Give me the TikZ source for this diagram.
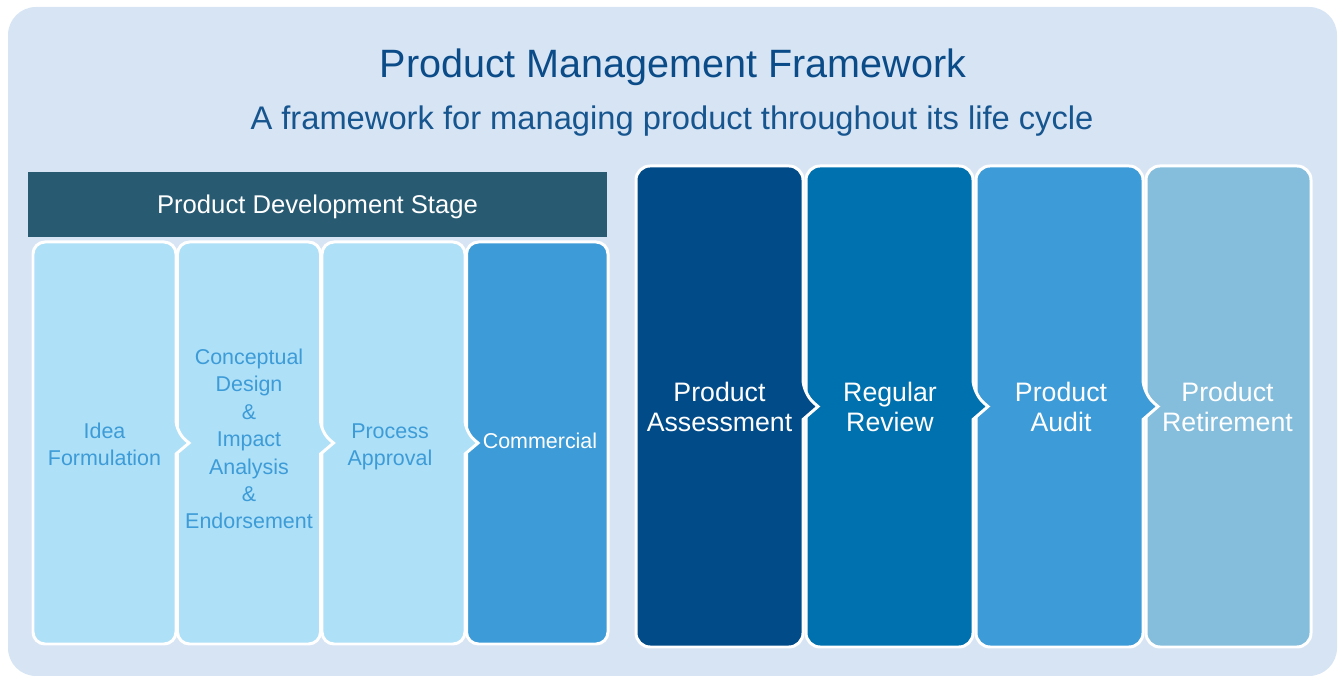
\documentclass[tikz,border=0pt]{standalone}
\usepackage{xcolor}
\usepackage{fontspec}
\setmainfont{Liberation Sans}
\usepackage{tikz}
\definecolor{PMBack}{HTML}{D6E4F4}
\definecolor{PMTitle}{HTML}{0B4C88}
\definecolor{PMSub}{HTML}{17558F}
\definecolor{PMHead}{HTML}{285A72}
\definecolor{PMLight}{HTML}{AEE0F7}
\definecolor{PMMid}{HTML}{3D9BD7}
\definecolor{PMNavy}{HTML}{004B88}
\definecolor{PMRoyal}{HTML}{0071AF}
\definecolor{PMPale}{HTML}{85BEDC}

\begin{document}
\begin{tikzpicture}[x=1cm,y=1cm,
  pmbox/.style={draw=white,line width=1.7pt,line join=miter},
  smalltxt/.style={font=\fontsize{12.2}{15.6}\selectfont,align=center,text=PMMid},
  bigtxt/.style={font=\fontsize{15.2}{17}\selectfont,align=center,text=white}]
\path[use as bounding box] (0,0) rectangle (26.76,13.54);
\fill[PMBack,rounded corners=0.56cm] (0.16,0.02) rectangle (26.74,13.40);
\node[text=PMTitle,font=\fontsize{22.5}{26}\selectfont] (title) at (13.46,12.19) {Product Management Framework};
\node[text=PMSub,font=\fontsize{18.6}{22}\selectfont] (subtitle) at (13.44,11.12) {A framework for managing product throughout its life cycle};
% development stage
\fill[PMHead] (0.56,8.80) rectangle (12.14,10.10);
\node[text=white,font=\fontsize{14.6}{17}\selectfont] (devhead) at (6.35,9.41) {Product Development Stage};
\filldraw[pmbox,fill=PMMid,rounded corners=0.24cm] (9.33,0.66) rectangle (12.16,8.70);
\filldraw[pmbox,fill=PMLight] (6.44,4.68) [rounded corners=0.24cm] -- (6.44,8.70) -- (9.30,8.70) -- (9.30,4.90) [sharp corners] -- (9.56,4.68) -- (9.30,4.46) [rounded corners=0.24cm] -- (9.30,0.66) -- (6.44,0.66) -- cycle;
\filldraw[pmbox,fill=PMLight] (3.55,4.68) [rounded corners=0.24cm] -- (3.55,8.70) -- (6.41,8.70) -- (6.41,4.90) [sharp corners] -- (6.67,4.68) -- (6.41,4.46) [rounded corners=0.24cm] -- (6.41,0.66) -- (3.55,0.66) -- cycle;
\filldraw[pmbox,fill=PMLight] (0.66,4.68) [rounded corners=0.24cm] -- (0.66,8.70) -- (3.52,8.70) -- (3.52,4.90) [sharp corners] -- (3.78,4.68) -- (3.52,4.46) [rounded corners=0.24cm] -- (3.52,0.66) -- (0.66,0.66) -- cycle;
\node[smalltxt] (idea) at (2.09,4.65) {Idea\\Formulation};
\node[smalltxt] (concept) at (4.98,4.76) {Conceptual\\Design\\\&\\Impact\\Analysis\\\&\\Endorsement};
\node[smalltxt] (approval) at (7.80,4.60) {Process\\Approval};
\node[smalltxt,text=white] (commercial) at (10.80,4.72) {Commercial};
% life cycle stages
\filldraw[pmbox,fill=PMPale,rounded corners=0.28cm] (22.92,0.60) rectangle (26.22,10.22);
\filldraw[pmbox,fill=PMMid] (19.52,5.41) [rounded corners=0.28cm] -- (19.52,10.22) -- (22.86,10.22) -- (22.86,5.67) [sharp corners] -- (23.16,5.41) -- (22.86,5.15) [rounded corners=0.28cm] -- (22.86,0.60) -- (19.52,0.60) -- cycle;
\filldraw[pmbox,fill=PMRoyal] (16.12,5.41) [rounded corners=0.28cm] -- (16.12,10.22) -- (19.46,10.22) -- (19.46,5.67) [sharp corners] -- (19.76,5.41) -- (19.46,5.15) [rounded corners=0.28cm] -- (19.46,0.60) -- (16.12,0.60) -- cycle;
\filldraw[pmbox,fill=PMNavy] (12.72,5.41) [rounded corners=0.28cm] -- (12.72,10.22) -- (16.06,10.22) -- (16.06,5.67) [sharp corners] -- (16.36,5.41) -- (16.06,5.15) [rounded corners=0.28cm] -- (16.06,0.60) -- (12.72,0.60) -- cycle;
\node[bigtxt] (assess) at (14.39,5.40) {Product\\Assessment};
\node[bigtxt] (review) at (17.80,5.40) {Regular\\Review};
\node[bigtxt] (audit) at (21.22,5.40) {Product\\Audit};
\node[bigtxt] (retire) at (24.55,5.40) {Product\\Retirement};
\end{tikzpicture}
\end{document}
